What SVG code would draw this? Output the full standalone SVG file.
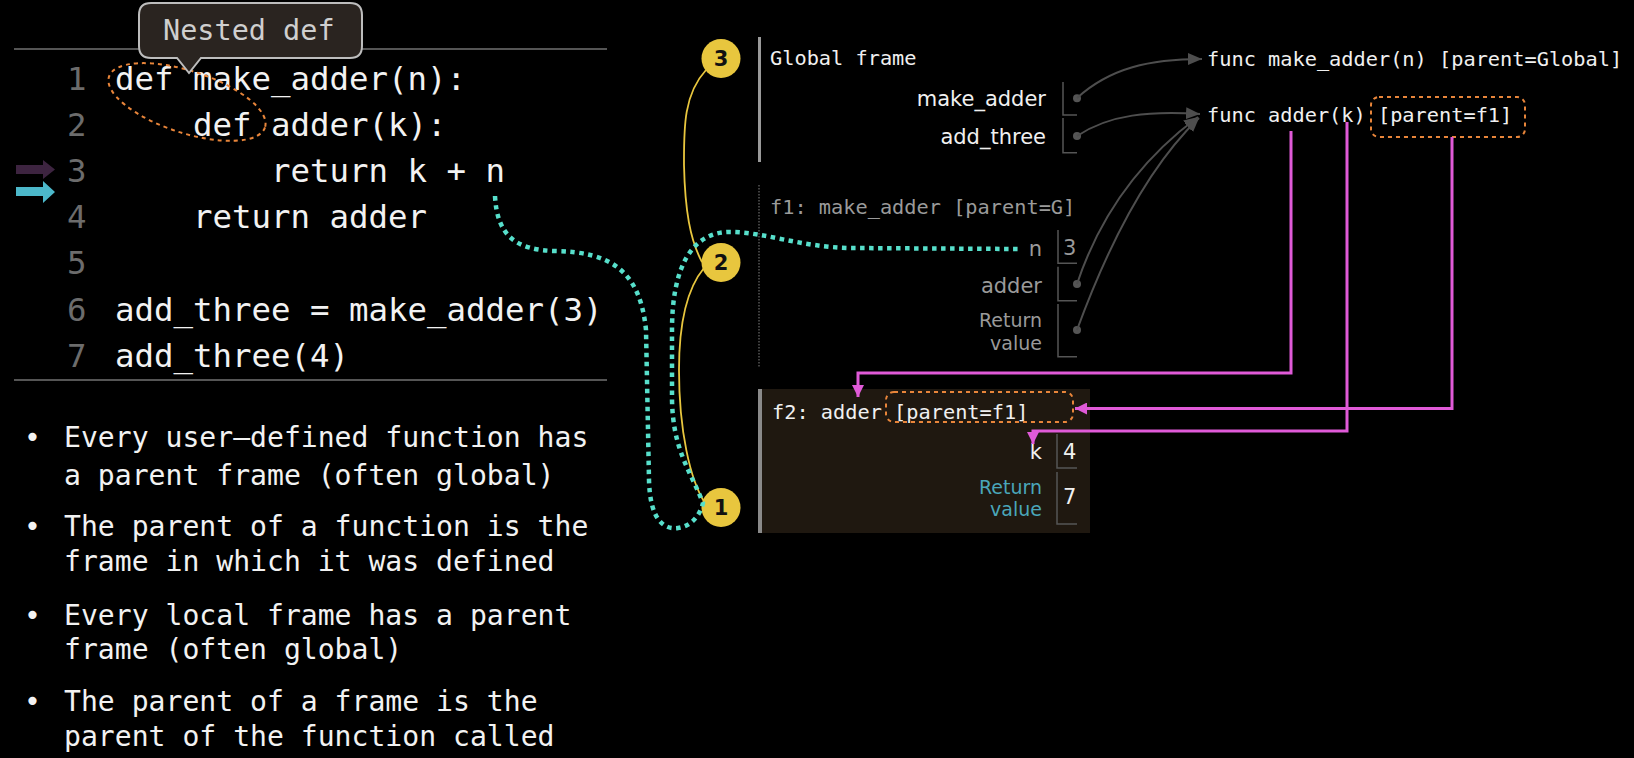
<svg xmlns="http://www.w3.org/2000/svg" width="1634" height="758" viewBox="0 0 1634 758">
<style>
.code{font-family:"DejaVu Sans Mono","Liberation Mono",monospace;font-size:32.4px;fill:#f2f2f2}
.ln{font-family:"DejaVu Sans Mono","Liberation Mono",monospace;font-size:32.4px;fill:#6c6c6c}
.bul{font-family:"DejaVu Sans Mono","Liberation Mono",monospace;font-size:28.1px;fill:#f2f2f2}
.mono{font-family:"DejaVu Sans Mono","Liberation Mono",monospace;font-size:20.3px;fill:#f0f0f0}
.monog{font-family:"DejaVu Sans Mono","Liberation Mono",monospace;font-size:20.3px;fill:#9a9a9a}
.lab{font-family:"DejaVu Sans","Liberation Sans",sans-serif;font-size:21px;fill:#f0f0f0;text-anchor:end}
.labg{font-family:"DejaVu Sans","Liberation Sans",sans-serif;font-size:21px;fill:#9a9a9a;text-anchor:end}
.rv{font-size:19px}
.labt{font-family:"DejaVu Sans","Liberation Sans",sans-serif;font-size:19px;fill:#4aa6ba;text-anchor:end}
.val{font-family:"DejaVu Sans","Liberation Sans",sans-serif;font-size:21px;fill:#f0f0f0}
.valg{font-family:"DejaVu Sans","Liberation Sans",sans-serif;font-size:21px;fill:#9a9a9a}
.box{fill:none;stroke:#555;stroke-width:1.5}
.dot{fill:#555}
.ptr{fill:none;stroke:#4e4e4e;stroke-width:2}
.mag{fill:none;stroke:#e05ad8;stroke-width:3}
.odash{fill:none;stroke:#e8853a;stroke-width:2;stroke-dasharray:4 4}
.circ{fill:#e8c63e}
.cnum{font-family:"DejaVu Sans","Liberation Sans",sans-serif;font-size:21px;font-weight:bold;fill:#111;text-anchor:middle}
.yel{fill:none;stroke:#e8c63e;stroke-width:1.8}
.teal{fill:none;stroke:#57dfcb;stroke-width:4.5;stroke-dasharray:4.5 4.5}
</style>
<defs>
<marker id="ga" markerUnits="userSpaceOnUse" markerWidth="14" markerHeight="12" refX="14" refY="6" orient="auto"><path d="M0,0 L14,6 L0,12 z" fill="#4e4e4e"/></marker>
<marker id="ma" markerUnits="userSpaceOnUse" markerWidth="12" markerHeight="12" refX="12" refY="6" orient="auto"><path d="M0,0 L12,6 L0,12 z" fill="#e05ad8"/></marker>
</defs>
<rect width="1634" height="758" fill="#000"/>

<g id="code">
<line x1="14" y1="49" x2="607" y2="49" stroke="#555" stroke-width="2"/>
<line x1="14" y1="380" x2="607" y2="380" stroke="#555" stroke-width="2"/>
<text class="ln" x="67" y="89.5">1</text>
<text class="ln" x="67" y="135.7">2</text>
<text class="ln" x="67" y="181.9">3</text>
<text class="ln" x="67" y="228.1">4</text>
<text class="ln" x="67" y="274.3">5</text>
<text class="ln" x="67" y="320.5">6</text>
<text class="ln" x="67" y="366.7">7</text>
<text class="code" x="115" y="89.5">def make_adder(n):</text>
<text class="code" x="193" y="135.7">def adder(k):</text>
<text class="code" x="271" y="181.9">return k + n</text>
<text class="code" x="193" y="228.1">return adder</text>
<text class="code" x="115" y="320.5">add_three = make_adder(3)</text>
<text class="code" x="115" y="366.7">add_three(4)</text>
<path d="M16,165 H43 V160 L55,169.5 L43,179 V174 H16 Z" fill="#3d2440"/>
<path d="M16,187 H43 V181 L55,192 L43,203 V196 H16 Z" fill="#4cb8ca"/>
<ellipse class="odash" cx="187" cy="102" rx="82" ry="31" transform="rotate(18 187 102)"/>
</g>

<g id="callout">
<path d="M151,3 H350 Q362,3 362,15 V46 Q362,58 350,58 H201 L189,73 L177,58 H151 Q139,58 139,46 V15 Q139,3 151,3 Z" fill="#2a2420" stroke="#bdbdbd" stroke-width="2"/>
<text x="163" y="40" font-family="DejaVu Sans Mono, Liberation Mono, monospace" font-size="28.5" fill="#cfcfcf">Nested def</text>
</g>

<g id="bullets">
<text class="bul" x="24" y="447">•</text>
<text class="bul" x="64" y="447">Every user–defined function has</text>
<text class="bul" x="64" y="485">a parent frame (often global)</text>
<text class="bul" x="24" y="536">•</text>
<text class="bul" x="64" y="536">The parent of a function is the</text>
<text class="bul" x="64" y="571">frame in which it was defined</text>
<text class="bul" x="24" y="625">•</text>
<text class="bul" x="64" y="625">Every local frame has a parent</text>
<text class="bul" x="64" y="659">frame (often global)</text>
<text class="bul" x="24" y="711">•</text>
<text class="bul" x="64" y="711">The parent of a frame is the</text>
<text class="bul" x="64" y="746">parent of the function called</text>
</g>

<g id="global-frame">
<rect x="758" y="37" width="3" height="125" fill="#9a9a9a"/>
<text class="mono" x="770" y="64.5">Global frame</text>
<text class="lab" x="1046" y="106">make_adder</text>
<text class="lab" x="1046" y="143.5">add_three</text>
<path class="box" d="M1063,82 V115 H1077"/>
<path class="box" d="M1063,118 V152.7 H1077"/>
<circle class="dot" cx="1077" cy="98.3" r="4"/>
<circle class="dot" cx="1077" cy="136" r="4"/>
</g>

<g id="f1-frame">
<line x1="759" y1="185" x2="759" y2="367" stroke="#555" stroke-width="1.5" stroke-dasharray="1.5 1.5"/>
<text class="monog" x="770" y="214">f1: make_adder [parent=G]</text>
<text class="labg" x="1042" y="256">n</text>
<text class="valg" x="1063" y="255">3</text>
<path class="box" d="M1058,230 V263.3 H1077"/>
<text class="labg" x="1042" y="293">adder</text>
<path class="box" d="M1058,266.7 V300.7 H1077"/>
<circle class="dot" cx="1077" cy="284" r="4"/>
<text class="labg rv" x="1042" y="327">Return</text>
<text class="labg rv" x="1042" y="350">value</text>
<path class="box" d="M1058,304 V356.7 H1077"/>
<circle class="dot" cx="1077" cy="330" r="4"/>
</g>

<g id="f2-frame">
<rect x="758" y="389" width="332" height="144" fill="#1f1810"/>
<rect x="758" y="389" width="4" height="144" fill="#8a8a8a"/>
<text class="mono" x="772" y="419">f2: adder [parent=f1]</text>
<rect class="odash" x="886" y="392" width="187" height="30" rx="8"/>
<text class="lab" x="1042" y="459">k</text>
<text class="val" x="1063" y="459">4</text>
<path class="box" d="M1057,434 V468 H1077" stroke="#666"/>
<text class="labt" x="1042" y="494">Return</text>
<text class="labt" x="1042" y="516">value</text>
<text class="val" x="1063" y="504">7</text>
<path class="box" d="M1057,472 V524 H1077" stroke="#666"/>
</g>

<g id="func-make_adder">
<text class="mono" x="1207" y="66">func make_adder(n) [parent=Global]</text>
</g>
<g id="func-adder">
<text class="mono" x="1207" y="122">func adder(k) [parent=f1]</text>
<rect class="odash" x="1371" y="97" width="154" height="40" rx="8"/>
</g>

<g id="steps">
<path class="yel" d="M706,70 C683,95 684,130 684,165 C685,210 690,240 702,262"/>
<path class="yel" d="M704,268 C684,292 679,330 679,370 C679,430 690,480 705,503"/>
<circle class="circ" cx="721" cy="58.5" r="19.5"/>
<text class="cnum" x="721" y="66">3</text>
<circle class="circ" cx="721" cy="262.5" r="19.5"/>
<text class="cnum" x="721" y="270">2</text>
<circle class="circ" cx="721" cy="507.5" r="19.5"/>
<text class="cnum" x="721" y="515">1</text>
</g>

<g id="connectors">
<path class="ptr" d="M1077,98 C1110,68 1150,59 1202,59" marker-end="url(#ga)"/>
<path class="ptr" d="M1077,136 C1110,114 1150,111 1200,114" marker-end="url(#ga)"/>
<path class="ptr" d="M1077,284 C1100,215 1140,160 1198,117" marker-end="url(#ga)"/>
<path class="ptr" d="M1077,330 C1110,240 1150,165 1199,118" marker-end="url(#ga)"/>
<path class="mag" d="M1291,131 V373 H858 V397" marker-end="url(#ma)"/>
<path class="mag" d="M1452,137 V408.5 H1075" marker-end="url(#ma)"/>
<path class="mag" d="M1347,122 V431 H1033 V444" marker-end="url(#ma)"/>
<path class="teal" d="M495,196 C497,235 515,250 555,251 C610,252 640,270 646,330 L649,480 C650,520 664,530 678,528 C692,526 700,515 703,503 C690,470 673,450 672,400 L672,330 C672,270 690,232 730,232 C765,232 800,247 850,248 L1020,249"/>
</g>
</svg>
